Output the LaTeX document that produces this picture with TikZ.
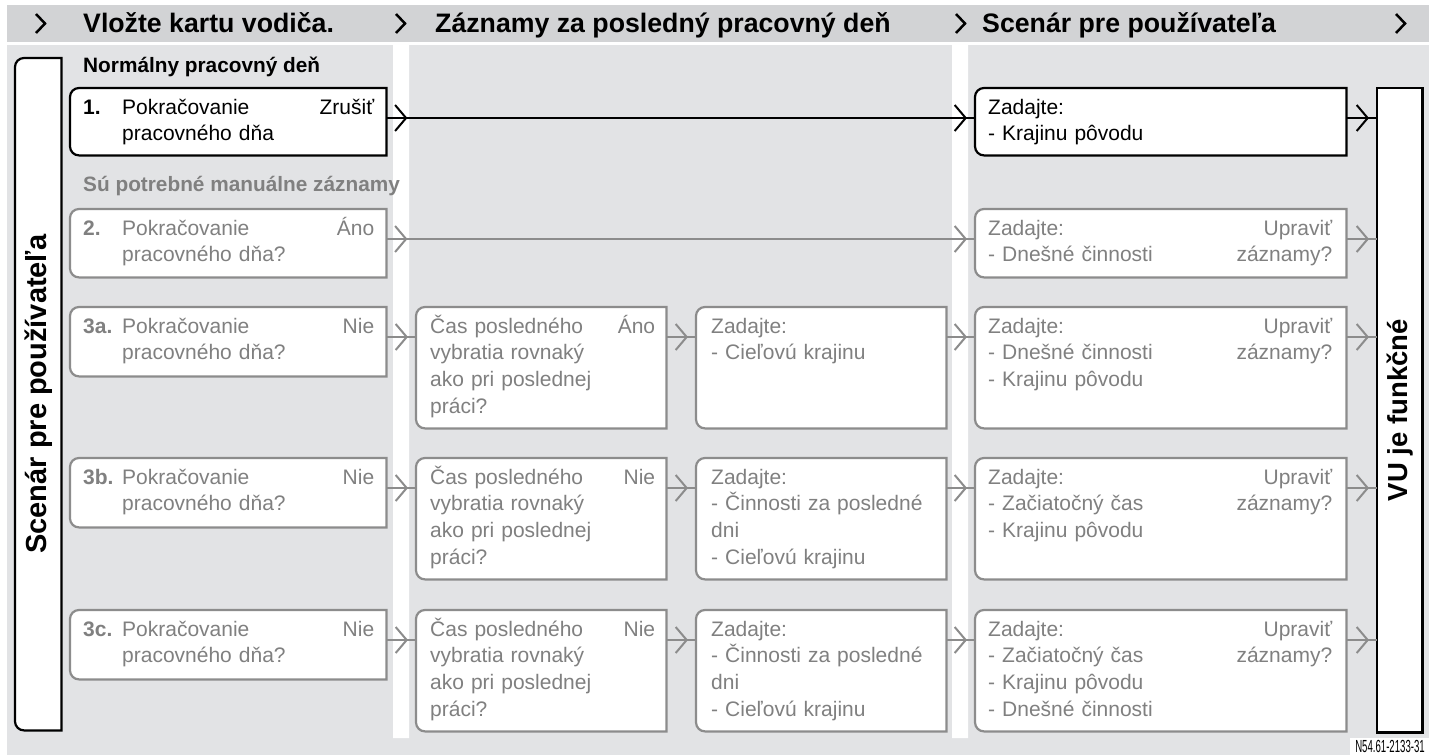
\documentclass[tikz,border=0pt]{standalone}
\usepackage{fontspec}
\setmainfont{Liberation Sans}
\newfontfamily\narrowfont[FakeStretch=0.55]{Liberation Sans}
\usetikzlibrary{
  arrows.meta,
  decorations.markings,
  backgrounds}

\definecolor{hdrgray}{HTML}{D2D3D5}
\definecolor{pnlgray}{HTML}{E2E3E5}
\definecolor{linegray}{HTML}{8C8C8C}
\definecolor{textgray}{HTML}{808080}
\newcommand\farright{\hskip 0pt plus 1fill\relax}

\begin{document}
\begin{tikzpicture}[x=1pt,y=-1pt]
\useasboundingbox (0,0) rectangle (1429,755);
\tikzset{
  box/.style={inner sep=0pt, anchor=north west},
  txt/.style={inner sep=0pt, anchor=north west, align=left,
    font=\fontsize{21}{26.7}\selectfont},
  muted/.style={color=textgray},
  head/.style={anchor=base west, inner sep=0pt,
    font=\fontsize{26.7}{30}\selectfont\bfseries},
  section/.style={anchor=base west, inner sep=0pt,
    font=\fontsize{20.8}{24}\selectfont\bfseries},
  side/.style={rotate=90, inner sep=0pt,
    font=\fontsize{#1}{32}\selectfont\bfseries},
  outline/.style={fill=white, draw=black, line width=2.2pt},
  conn/.style={line width=2pt},
  chev/.style={postaction={decorate, decoration={markings,
    mark=at position #1 with {\arrow{Straight Barb[length=11pt,width=26pt]}}}}},
}
% header
\foreach \x in {45,405,965,1405}
  \draw[line width=2.5pt] (\x-9,14) -- (\x,23.5) -- (\x-9,33);
\node[head] (h1) at (83,32) {Vložte kartu vodiča.};
\node[head] (h2) at (435,32) {Záznamy za posledný pracovný deň};
\node[head] (h3) at (982,32) {Scenár pre používateľa};

% side bars
\node[box, minimum width=46, minimum height=672] (scen) at (15,58) {};
\node[box, minimum width=45, minimum height=644] (vu) at (1377,88) {};
\node[side=29] (scent) at (scen.center) {Scenár pre používateľa};
\node[side=27.5] (vut) at (vu.center) {VU je funkčné};

\node[section] (sec1) at (83,72) {Normálny pracovný deň};
\node[section, muted] (sec2) at (83,191) {Sú potrebné manuálne záznamy};

% boxes
\node[box, minimum width=316, minimum height=67] (l1) at (70,88) {};
\node[box, minimum width=316, minimum height=68] (l2) at (70,209) {};
\node[box, minimum width=316, minimum height=69] (l3a) at (70,307) {};
\node[box, minimum width=316, minimum height=69] (l3b) at (70,458) {};
\node[box, minimum width=316, minimum height=69] (l3c) at (70,610) {};
\node[box, minimum width=250, minimum height=121] (c3a) at (416,307) {};
\node[box, minimum width=250, minimum height=121] (c3b) at (416,458) {};
\node[box, minimum width=250, minimum height=121] (c3c) at (416,610) {};
\node[box, minimum width=250, minimum height=121] (z3a) at (696,307) {};
\node[box, minimum width=250, minimum height=121] (z3b) at (696,458) {};
\node[box, minimum width=250, minimum height=121] (z3c) at (696,610) {};
\node[box, minimum width=371, minimum height=67] (r1) at (975,88) {};
\node[box, minimum width=371, minimum height=68] (r2) at (975,209) {};
\node[box, minimum width=371, minimum height=121] (r3a) at (975,307) {};
\node[box, minimum width=371, minimum height=121] (r3b) at (975,458) {};
\node[box, minimum width=371, minimum height=121] (r3c) at (975,610) {};

% box texts
\node[txt, text width=291] (l1t) at ([shift={(13,7.3)}]l1.north west)
  {\strut\makebox[39pt][l]{\bfseries 1.}Pokračovanie\farright Zrušiť\\\hspace*{39pt}pracovného dňa};
\node[txt, muted, text width=291] (l2t) at ([shift={(13,7.3)}]l2.north west)
  {\strut\makebox[39pt][l]{\bfseries 2.}Pokračovanie\farright Áno\\\hspace*{39pt}pracovného dňa?};
\node[txt, muted, text width=291] (l3at) at ([shift={(13,7.3)}]l3a.north west)
  {\strut\makebox[39pt][l]{\bfseries 3a.}Pokračovanie\farright Nie\\\hspace*{39pt}pracovného dňa?};
\node[txt, muted, text width=291] (l3bt) at ([shift={(13,7.3)}]l3b.north west)
  {\strut\makebox[39pt][l]{\bfseries 3b.}Pokračovanie\farright Nie\\\hspace*{39pt}pracovného dňa?};
\node[txt, muted, text width=291] (l3ct) at ([shift={(13,7.3)}]l3c.north west)
  {\strut\makebox[39pt][l]{\bfseries 3c.}Pokračovanie\farright Nie\\\hspace*{39pt}pracovného dňa?};
\node[txt, muted, text width=225] (c3at) at ([shift={(14,7.3)}]c3a.north west)
  {\strut Čas posledného\farright Áno\\vybratia rovnaký\\ako pri poslednej\\práci?};
\node[txt, muted, text width=225] (c3bt) at ([shift={(14,7.3)}]c3b.north west)
  {\strut Čas posledného\farright Nie\\vybratia rovnaký\\ako pri poslednej\\práci?};
\node[txt, muted, text width=225] (c3ct) at ([shift={(14,7.3)}]c3c.north west)
  {\strut Čas posledného\farright Nie\\vybratia rovnaký\\ako pri poslednej\\práci?};
\node[txt, muted, text width=225] (z3at) at ([shift={(15,7.3)}]z3a.north west)
  {\strut Zadajte:\\- Cieľovú krajinu};
\node[txt, muted, text width=225] (z3bt) at ([shift={(15,7.3)}]z3b.north west)
  {\strut Zadajte:\\- Činnosti za posledné\\dni\\- Cieľovú krajinu};
\node[txt, muted, text width=225] (z3ct) at ([shift={(15,7.3)}]z3c.north west)
  {\strut Zadajte:\\- Činnosti za posledné\\dni\\- Cieľovú krajinu};
\node[txt, text width=344] (r1t) at ([shift={(13,7.3)}]r1.north west)
  {\strut Zadajte:\\- Krajinu pôvodu};
\node[txt, muted, text width=344] (r2t) at ([shift={(13,7.3)}]r2.north west)
  {\strut Zadajte:\farright Upraviť\\- Dnešné činnosti\farright záznamy?};
\node[txt, muted, text width=344] (r3at) at ([shift={(13,7.3)}]r3a.north west)
  {\strut Zadajte:\farright Upraviť\\- Dnešné činnosti\farright záznamy?\\- Krajinu pôvodu};
\node[txt, muted, text width=344] (r3bt) at ([shift={(13,7.3)}]r3b.north west)
  {\strut Zadajte:\farright Upraviť\\- Začiatočný čas\farright záznamy?\\- Krajinu pôvodu};
\node[txt, muted, text width=344] (r3ct) at ([shift={(13,7.3)}]r3c.north west)
  {\strut Zadajte:\farright Upraviť\\- Začiatočný čas\farright záznamy?\\- Krajinu pôvodu\\- Dnešné činnosti};

\node[anchor=base east, inner sep=0pt, font=\narrowfont\fontsize{17.5}{20}\selectfont]
  (ref) at (1425,752) {N54.61-2133-31};

% connectors
\foreach \row in {1,2,3a,3b,3c}
  \coordinate (y\row) at ([shift={(0,30)}]l\row.north east);
\draw[conn, chev=21pt, chev=-8pt] (y1) -- (y1 -| r1.west);
\draw[conn, chev=-8pt] (y1 -| r1.east) -- (y1 -| vu.west);
\draw[conn, linegray, chev=21pt, chev=-8pt] (y2) -- (y2 -| r2.west);
\draw[conn, linegray, chev=-8pt] (y2 -| r2.east) -- (y2 -| vu.west);
\foreach \row in {3a,3b,3c} {
  \draw[conn, linegray, chev=-8pt] (y\row) -- (y\row -| c\row.west);
  \draw[conn, linegray, chev=-8pt] (y\row -| c\row.east) -- (y\row -| z\row.west);
  \draw[conn, linegray, chev=-8pt] (y\row -| z\row.east) -- (y\row -| r\row.west);
  \draw[conn, linegray, chev=-8pt] (y\row -| r\row.east) -- (y\row -| vu.west);
}

\begin{scope}[on background layer]
  \fill[hdrgray] (7,5) rectangle (1429,42);
  \fill[pnlgray] (7,45) rectangle (1429,755);
  \fill[white] (393,45) rectangle (409,738) (952,45) rectangle (968,738)
    (1350,738) rectangle (1429,755);
  \foreach \n in {scen,l1,r1}
    \draw[outline] (\n.north east) [rounded corners=9pt] -- (\n.north west)
      -- (\n.south west) [sharp corners] -- (\n.south east) -- cycle;
  \foreach \n in {l2,l3a,l3b,l3c,c3a,c3b,c3c,z3a,z3b,z3c,r2,r3a,r3b,r3c}
    \draw[outline, draw=linegray] (\n.north east) [rounded corners=9pt] -- (\n.north west)
      -- (\n.south west) [sharp corners] -- (\n.south east) -- cycle;
  \draw[outline] (vu.north west) rectangle (vu.south east);
\end{scope}
\end{tikzpicture}
\end{document}
